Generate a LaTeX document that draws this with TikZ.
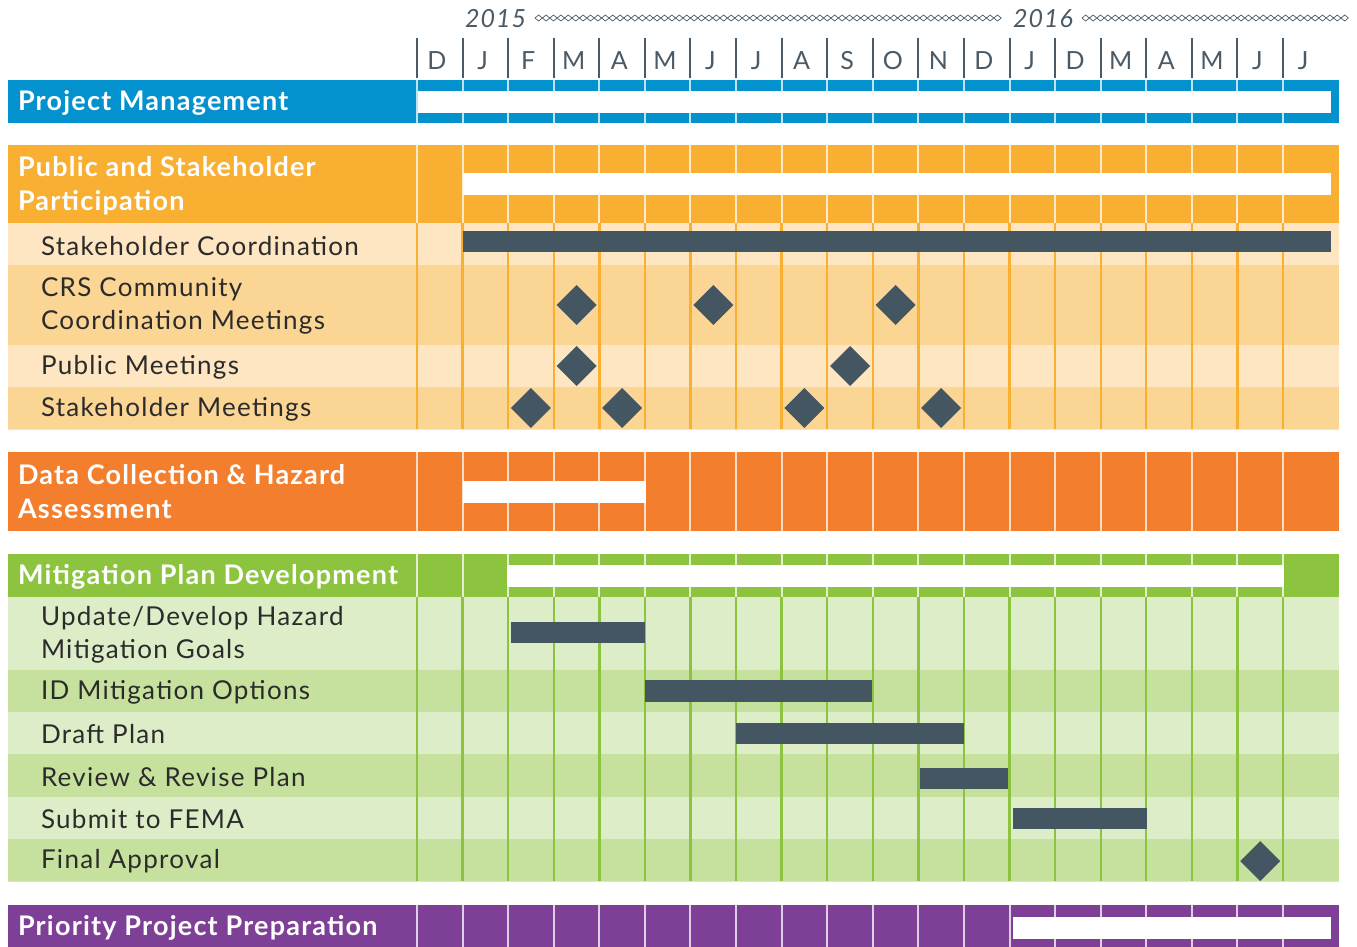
\documentclass[tikz,border=0pt]{standalone}
\usepackage{fontspec}
\setmainfont{Lato}
\usetikzlibrary{shapes.geometric}

\definecolor{pmblue}{HTML}{0492CF}
\definecolor{pspyellow}{HTML}{F8AF32}
\definecolor{psplight}{HTML}{FDE6C1}
\definecolor{pspmid}{HTML}{FBD594}
\definecolor{dcorange}{HTML}{F37F2E}
\definecolor{mpgreen}{HTML}{8CC43F}
\definecolor{mplight}{HTML}{DDEDC7}
\definecolor{mpmid}{HTML}{C6E19D}
\definecolor{pppurple}{HTML}{7E4096}
\definecolor{bardark}{HTML}{455663}
\definecolor{monthgray}{HTML}{4A5A66}
\definecolor{labeltext}{HTML}{2B2B2B}

\def\cw{45.58}

% colored group row with the white span bar
\newcommand{\headrow}[5]{%
  \fill[#1] (8,#2) rectangle (1339,#3);
  \foreach \i in {0,...,19}
    \draw[headsep] ({417+\cw*\i},#2) -- ({417+\cw*\i},#3);
  \fill[white] (#4,{(#2+#3)/2-11}) rectangle (#5,{(#2+#3)/2+11});
}
% task row
\newcommand{\taskrow}[4]{%
  \fill[#1] (8,#3) rectangle (1339,#4);
  \draw[#2,opacity=0.35,line width=1pt] (8,#4) -- (1339,#4);
  \foreach \i in {0,...,19}
    \draw[#2,line width=2.4pt] ({417+\cw*\i},#3) -- ({417+\cw*\i},#4);
}

\begin{document}
\begin{tikzpicture}[x=1pt,y=-1pt]
\tikzstyle{every node}=[inner sep=0pt,outer sep=0pt]
\tikzstyle{headsep}=[white,opacity=0.75,line width=2pt]
\tikzstyle{head label}=[anchor=west,text=white,align=left,yshift=-1.5pt,
  font=\fontsize{27}{34}\selectfont\bfseries\addfontfeature{LetterSpace=4.5}]
\tikzstyle{task label}=[anchor=west,text=labeltext,align=left,yshift=-1.5pt,
  font=\fontsize{26}{33}\selectfont\addfontfeature{LetterSpace=5}]
\tikzstyle{month}=[text=monthgray,yshift=-1pt,font=\fontsize{25}{25}\selectfont]
\tikzstyle{year}=[anchor=east,text=monthgray,font=\fontsize{25}{25}\selectfont\itshape\addfontfeature{LetterSpace=4}]
\tikzstyle{milestone}=[diamond,fill=bardark,minimum size=40pt]
\tikzstyle{taskbar}=[fill=bardark]
\tikzstyle{chain}=[monthgray,line width=0.7pt]

\useasboundingbox (0,0) rectangle (1357,946);
\clip (0,0) rectangle (1357,946);

% timeline header
\node[year] (y2015) at (526,19) {2015};
\node[year] (y2016) at (1073,19) {2016};
\foreach \i in {0,...,62}
  \draw[chain] ({535+7.4*\i},18) -- ++(3.7,-3) -- ++(3.7,3) -- ++(-3.7,3) -- cycle;
\foreach \i in {0,...,35}
  \draw[chain] ({1082+7.4*\i},18) -- ++(3.7,-3) -- ++(3.7,3) -- ++(-3.7,3) -- cycle;
\foreach \m [count=\i from 0] in {D,J,F,M,A,M,J,J,A,S,O,N,D,J,D,M,A,M,J,J} {
  \draw[monthgray,line width=2pt] ({417+\cw*\i},38) -- ({417+\cw*\i},78);
  \node[month] (mo\i) at ({417+\cw*\i+20},60) {\m};
}

% project management
\headrow{pmblue}{80}{123}{418}{1331}
\node[head label] (pm) at (18,101.5) {Project Management};

% public and stakeholder participation
\headrow{pspyellow}{145}{223}{463}{1331}
\taskrow{psplight}{pspyellow}{223}{265}
\taskrow{pspmid}{pspyellow}{265}{345}
\taskrow{psplight}{pspyellow}{345}{387}
\taskrow{pspmid}{pspyellow}{387}{429}
\node[head label] (psp) at (18,184) {Public and Stakeholder\\Participation};
\node[task label] (sc) at (41,245) {Stakeholder Coordination};
\node[task label] (crs) at (41,304) {CRS Community\\Coordination Meetings};
\node[task label] (pubm) at (41,366) {Public Meetings};
\node[task label] (stm) at (41,408) {Stakeholder Meetings};
\fill[taskbar] (463,231) rectangle (1331,252);
\foreach \c [count=\k] in {3,6,10}
  \node[milestone] (crs\k) at ({417+\cw*(\c+0.5)},305) {};
\foreach \c [count=\k] in {3,9}
  \node[milestone] (pubm\k) at ({417+\cw*(\c+0.5)},366) {};
\foreach \c [count=\k] in {2,4,8,11}
  \node[milestone] (stm\k) at ({417+\cw*(\c+0.5)},408) {};

% data collection
\headrow{dcorange}{452}{531}{463}{646}
\node[head label] (dc) at (18,490) {Data Collection \& Hazard\\Assessment};

% mitigation plan development
\headrow{mpgreen}{554}{597}{507}{1284}
\taskrow{mplight}{mpgreen}{597}{670}
\taskrow{mpmid}{mpgreen}{670}{712}
\taskrow{mplight}{mpgreen}{712}{754}
\taskrow{mpmid}{mpgreen}{754}{797}
\taskrow{mplight}{mpgreen}{797}{839}
\taskrow{mpmid}{mpgreen}{839}{881}
\node[head label] (mpd) at (18,575) {Mitigation Plan Development};
\node[task label] (goals) at (41,633) {Update/Develop Hazard\\Mitigation Goals};
\node[task label] (opts) at (41,691) {ID Mitigation Options};
\node[task label] (draft) at (41,733) {Draft Plan};
\node[task label] (rev) at (41,776) {Review \& Revise Plan};
\node[task label] (fema) at (41,818) {Submit to FEMA};
\node[task label] (final) at (41,860) {Final Approval};
\fill[taskbar] (511,622) rectangle (645,643);
\fill[taskbar] (645,680) rectangle (872,702);
\fill[taskbar] (736,723) rectangle (964,744);
\fill[taskbar] (920,768) rectangle (1008,789);
\fill[taskbar] (1013,808) rectangle (1147,829);
\node[milestone] (fa) at ({417+\cw*18.5},861) {};

% priority project preparation
\headrow{pppurple}{905}{950}{1013}{1331}
\node[head label] (ppp) at (18,926) {Priority Project Preparation};
\end{tikzpicture}
\end{document}
